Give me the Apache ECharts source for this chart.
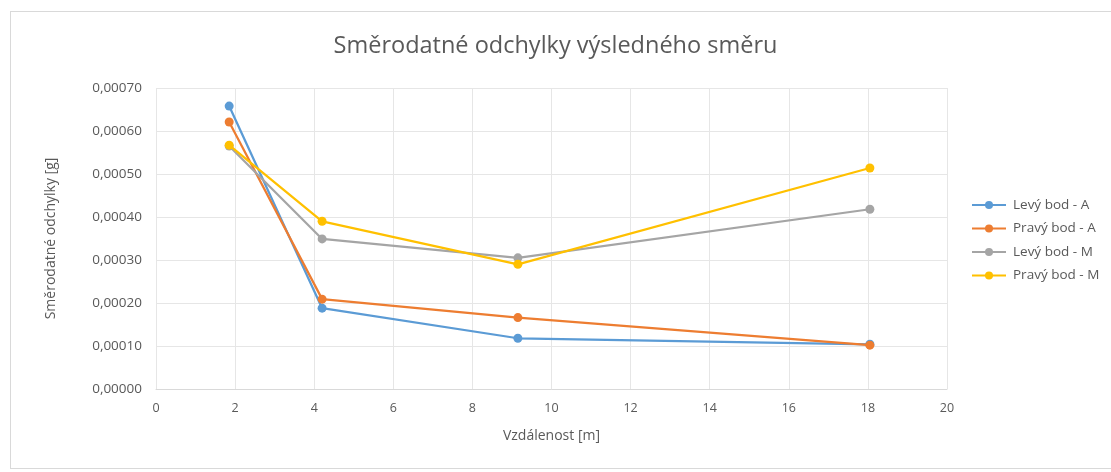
<!DOCTYPE html>
<html><head><meta charset="utf-8">
<script src="https://cdn.jsdelivr.net/npm/echarts@6/dist/echarts.min.js"></script>
<style>html,body{margin:0;padding:0;background:#fff}#c{width:1111px;height:472px}
#frame{position:absolute;left:10px;top:11px;width:1110px;height:458px;border:1px solid #d9d9d9;box-sizing:border-box;pointer-events:none}</style>
</head><body><div id="c"></div><div id="frame"></div>
<script>
const seriesNames = ['Levý bod - A', 'Pravý bod - A', 'Levý bod - M', 'Pravý bod - M'];
const distances = [1.85, 4.2, 9.15, 18.05];
const levyA = [0.000658, 0.000188, 0.000118, 0.000104];
const pravyA = [0.000621, 0.000209, 0.000166, 0.000102];
const levyM = [0.000565, 0.000349, 0.000305, 0.000418];
const pravyM = [0.000567, 0.000390, 0.000290, 0.000514];
const colors = ['#5B9BD5', '#ED7D31', '#A5A5A5', '#FFC000'];
const values = [levyA, pravyA, levyM, pravyM];
const font = 'Open Sans, Noto Sans, sans-serif';

const chart = echarts.init(document.getElementById('c'));
chart.setOption({
  animation: false,
  title: { text: 'Směrodatné odchylky výsledného směru', left: 'center', top: 29,
    textStyle: { fontFamily: font, fontSize: 23.5, fontWeight: 'normal', color: '#595959' } },
  grid: { left: 156, right: 164, top: 88, bottom: 83 },
  legend: { orient: 'vertical', left: 966, top: 193, itemWidth: 34, itemHeight: 10, itemGap: 9.5,
    textStyle: { fontFamily: font, fontSize: 13.5, color: '#595959', padding: [0, 0, 0, 2] }, data: seriesNames },
  xAxis: { type: 'value', min: 0, max: 20, interval: 2,
    name: 'Vzdálenost [m]', nameLocation: 'middle', nameGap: 40,
    nameTextStyle: { fontFamily: font, fontSize: 14, color: '#595959' },
    axisLine: { show: true, lineStyle: { color: '#d9d9d9' } }, axisTick: { show: false },
    axisLabel: { fontFamily: font, fontSize: 12.5, color: '#595959', margin: 13 },
    splitLine: { show: true, lineStyle: { color: '#e6e6e6' } } },
  yAxis: { type: 'value', min: 0, max: 0.0007, interval: 0.0001,
    name: 'Směrodatné odchylky [g]', nameLocation: 'middle', nameGap: 98,
    nameTextStyle: { fontFamily: font, fontSize: 14, color: '#595959' },
    axisLine: { show: false }, axisTick: { show: false },
    axisLabel: { fontFamily: font, fontSize: 13.5, color: '#595959', margin: 14,
      formatter: v => v.toFixed(5).replace('.', ',') },
    splitLine: { show: true, lineStyle: { color: '#e6e6e6' } } },
  series: seriesNames.map((n, i) => ({
    name: n, type: 'line', data: distances.map((d, j) => [d, values[i][j]]),
    symbol: 'circle', symbolSize: 9, color: colors[i],
    lineStyle: { width: 2.25, color: colors[i] }, itemStyle: { color: colors[i] }, z: 2 + i
  }))
});
</script></body></html>
